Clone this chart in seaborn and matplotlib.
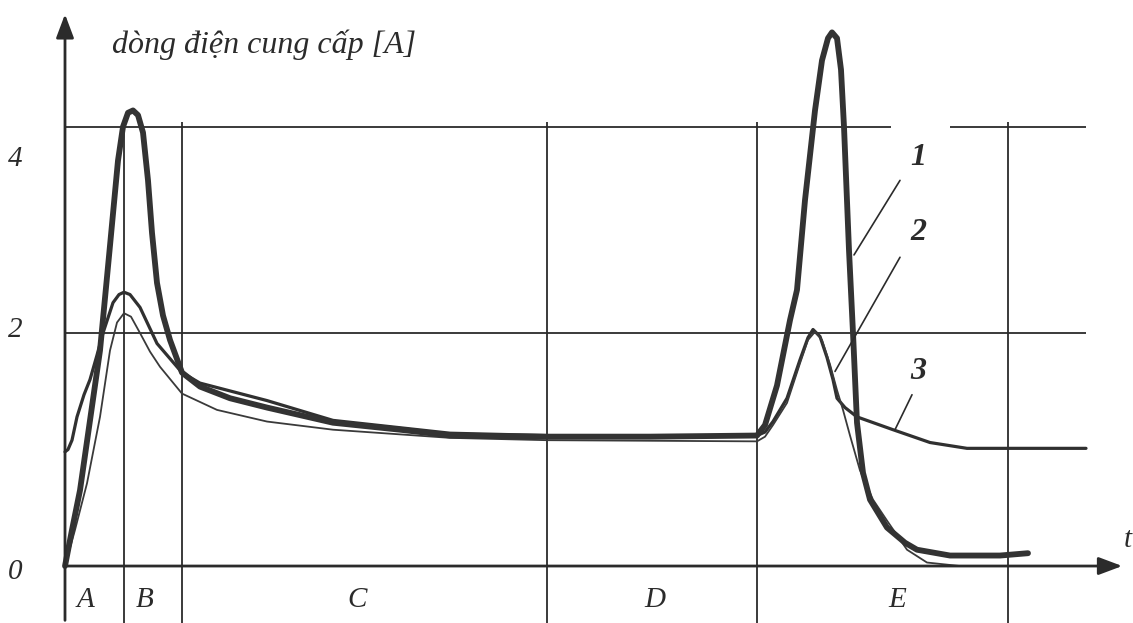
import numpy as np
import pandas as pd
import seaborn as sns
import matplotlib.pyplot as plt

# time axis in arbitrary units, current in A (schematic)
t1 = [0, 0.7, 1.5, 2.5, 3.5, 4.5, 5.3, 5.8, 6.3, 6.8, 7.3, 7.8, 8.3, 8.7, 9.2, 9.8,
      10.5, 11.7, 13.5, 16.5, 20.2, 26.8, 33.5, 38.5, 48.2, 58.5, 69.2, 70.0, 71.2,
      72.5, 73.2, 74.0, 75.0, 75.7, 76.3, 76.7, 77.2, 77.6, 77.9, 78.4, 78.8, 79.2,
      79.8, 80.5, 82.2, 84.0, 85.2, 88.5, 93.5, 96.3]
i1 = [0, 0.31, 0.65, 1.25, 1.85, 2.75, 3.48, 3.77, 3.89, 3.91, 3.87, 3.72, 3.31, 2.86,
      2.43, 2.15, 1.94, 1.66, 1.54, 1.44, 1.36, 1.23, 1.17, 1.12, 1.11, 1.11, 1.12,
      1.21, 1.55, 2.11, 2.37, 3.14, 3.91, 4.34, 4.53, 4.58, 4.53, 4.26, 3.77, 2.71,
      2.0, 1.23, 0.80, 0.57, 0.33, 0.20, 0.14, 0.09, 0.09, 0.11]

t2 = [0, 1.0, 2.2, 3.5, 4.5, 5.2, 5.9, 6.6, 7.5, 8.5, 9.5, 11.7, 15.2, 20.2, 26.8,
      38.5, 48.2, 69.2, 70.0, 70.8, 72.2, 73.5, 74.3, 75.0, 75.7, 76.5, 77.2, 77.8,
      78.5, 79.5, 80.8, 82.2, 84.2, 86.2, 89.5]
i2 = [0, 0.31, 0.71, 1.28, 1.85, 2.09, 2.17, 2.14, 2.0, 1.84, 1.71, 1.48, 1.34, 1.24,
      1.17, 1.10, 1.08, 1.07, 1.11, 1.21, 1.40, 1.74, 1.94, 2.01, 1.94, 1.73, 1.51,
      1.34, 1.12, 0.82, 0.57, 0.39, 0.14, 0.03, 0.0]

t3 = [0, 0.3, 0.7, 1.2, 1.9, 2.5, 3.2, 3.8, 4.8, 5.4, 5.9, 6.5, 7.5, 9.2, 11.7, 13.5,
      20.2, 26.8, 38.5, 48.2, 69.2, 70.0, 70.8, 72.2, 73.5, 74.3, 74.8, 75.5, 76.2,
      76.8, 77.2, 78.0, 79.2, 82.8, 86.5, 90.2, 102.1]
i3 = [0.98, 1.0, 1.08, 1.28, 1.47, 1.60, 1.81, 2.0, 2.26, 2.33, 2.35, 2.33, 2.22, 1.91,
      1.66, 1.57, 1.42, 1.25, 1.14, 1.12, 1.12, 1.15, 1.24, 1.44, 1.77, 1.96, 2.03,
      1.97, 1.79, 1.60, 1.44, 1.36, 1.28, 1.17, 1.06, 1.01, 1.01]

# phase boundaries and labels
phase_bounds = [0, 5.9, 11.7, 48.2, 69.2, 94.3]
phase_names = ["A", "B", "C", "D", "E"]
phase_label_x = [2.0, 8.0, 29.2, 59.0, 83.2]

ytick_vals = [3.49, 2.03, -0.05]
ytick_labels = ["4", "2", "0"]

ink = "#2b2b2b"

sns.set_theme(style="white")
plt.rcParams['font.family'] = ['Liberation Serif', 'DejaVu Serif']

fig = plt.figure(figsize=(11.33, 6.23), dpi=100)
ax = fig.add_axes([0, 0, 1, 1])
ax.set_xlim(-6.5, 106.8)
ax.set_ylim(-0.489, 4.858)
ax.axis("off")

# grid lines
ax.hlines([3.77, 3.77], [0, 88.5], [82.6, 102.1], color=ink, lw=1.3)
ax.hlines(2.0, 0, 102.1, color=ink, lw=1.3)
ax.vlines(phase_bounds[1:], -0.49, 3.81, color=ink, lw=1.3)

# axes with arrows
ax.annotate("", xy=(0, 4.76), xytext=(0, -0.49),
            arrowprops=dict(arrowstyle="-|>,head_length=1.2,head_width=0.45",
                            color=ink, lw=2))
ax.annotate("", xy=(106.0, 0), xytext=(0, 0),
            arrowprops=dict(arrowstyle="-|>,head_length=1.2,head_width=0.45",
                            color=ink, lw=2))

# curves
smooth = dict(solid_joinstyle="round", solid_capstyle="round")
df1 = pd.DataFrame({"t": t1, "i": i1})
df2 = pd.DataFrame({"t": t2, "i": i2})
df3 = pd.DataFrame({"t": t3, "i": i3})
sns.lineplot(data=df3, x="t", y="i", ax=ax, sort=False, estimator=None,
             color="#303030", lw=2.3, **smooth)
sns.lineplot(data=df2, x="t", y="i", ax=ax, sort=False, estimator=None,
             color="#3a3a3a", lw=1.3, **smooth)
sns.lineplot(data=df1, x="t", y="i", ax=ax, sort=False, estimator=None,
             color="#333333", lw=4.2, **smooth)

# texts
ax.text(4.7, 4.47, "dòng điện cung cấp [A]", fontsize=23, style="italic",
        color=ink, va="center", ha="left")
for v, lab in zip(ytick_vals, ytick_labels):
    ax.text(-5.0, v, lab, fontsize=21, style="italic", color=ink,
            ha="center", va="center")
for x, lab in zip(phase_label_x, phase_names):
    ax.text(x, -0.29, lab, fontsize=21, style="italic", color=ink,
            ha="center", va="center")
ax.text(106.3, 0.22, "t", fontsize=21, style="italic", color=ink,
        ha="center", va="center")

# curve numbers with leader lines
leaders = [("1", (85.3, 3.51), (83.5, 3.31), (78.9, 2.67)),
           ("2", (85.3, 2.86), (83.5, 2.65), (77.0, 1.67)),
           ("3", (85.3, 1.67), (84.7, 1.47), (83.0, 1.17))]
for lab, pos, a, b in leaders:
    ax.text(pos[0], pos[1], lab, fontsize=23, style="italic", weight="bold",
            color=ink, ha="center", va="center")
    ax.plot([a[0], b[0]], [a[1], b[1]], color=ink, lw=1.2)

fig.savefig("out.png", dpi=100, facecolor="white")
